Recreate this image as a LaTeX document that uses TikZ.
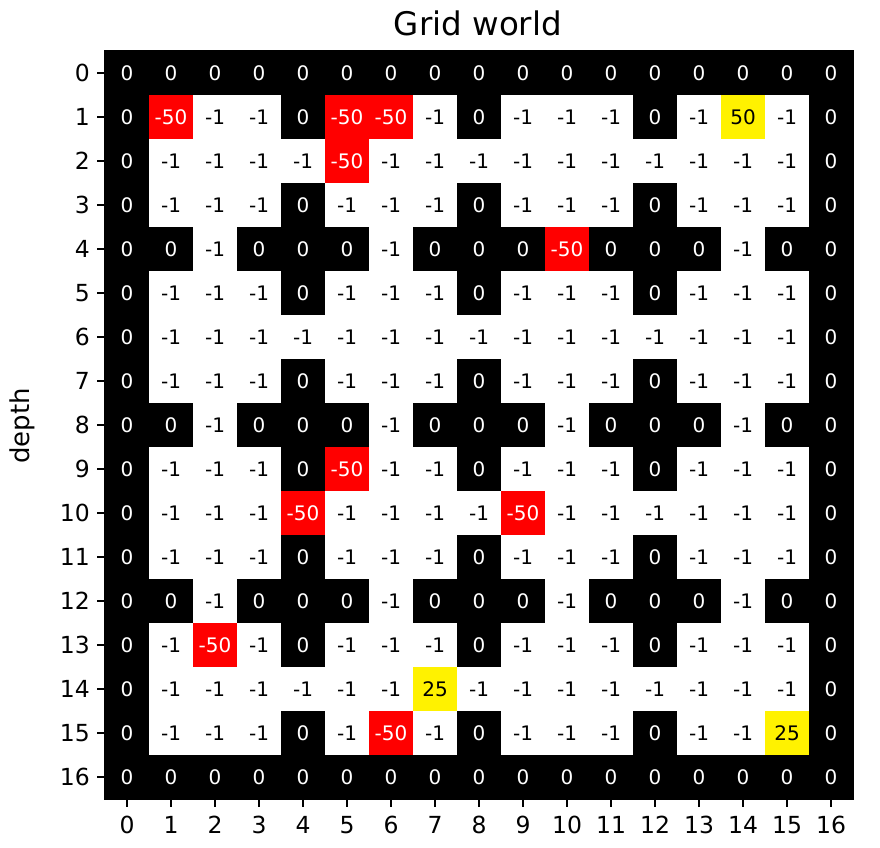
\documentclass[tikz,border=0pt]{standalone}
\usepackage{fontspec}
\setmainfont{DejaVu Sans}
\begin{document}
\begin{tikzpicture}[x=1pt,y=-1pt,
  cell/.style={minimum size=44pt,inner sep=0pt,outer sep=0pt,font=\fontsize{20}{20}\selectfont},
  zero/.style={fill=black,text=white},
  free/.style={fill=white,text=black},
  trap/.style={fill=red,text=white},
  goal/.style={fill=yellow,text=black},
  ticklab/.style={font=\fontsize{23.5}{23.5}\selectfont,inner sep=0pt},
  tickmark/.style={line width=1.6pt}]
\useasboundingbox[fill=white] (0,0) rectangle (880,847);
\foreach \row [count=\r from 0] in {
 {0,0,0,0,0,0,0,0,0,0,0,0,0,0,0,0,0},
 {0,-50,-1,-1,0,-50,-50,-1,0,-1,-1,-1,0,-1,50,-1,0},
 {0,-1,-1,-1,-1,-50,-1,-1,-1,-1,-1,-1,-1,-1,-1,-1,0},
 {0,-1,-1,-1,0,-1,-1,-1,0,-1,-1,-1,0,-1,-1,-1,0},
 {0,0,-1,0,0,0,-1,0,0,0,-50,0,0,0,-1,0,0},
 {0,-1,-1,-1,0,-1,-1,-1,0,-1,-1,-1,0,-1,-1,-1,0},
 {0,-1,-1,-1,-1,-1,-1,-1,-1,-1,-1,-1,-1,-1,-1,-1,0},
 {0,-1,-1,-1,0,-1,-1,-1,0,-1,-1,-1,0,-1,-1,-1,0},
 {0,0,-1,0,0,0,-1,0,0,0,-1,0,0,0,-1,0,0},
 {0,-1,-1,-1,0,-50,-1,-1,0,-1,-1,-1,0,-1,-1,-1,0},
 {0,-1,-1,-1,-50,-1,-1,-1,-1,-50,-1,-1,-1,-1,-1,-1,0},
 {0,-1,-1,-1,0,-1,-1,-1,0,-1,-1,-1,0,-1,-1,-1,0},
 {0,0,-1,0,0,0,-1,0,0,0,-1,0,0,0,-1,0,0},
 {0,-1,-50,-1,0,-1,-1,-1,0,-1,-1,-1,0,-1,-1,-1,0},
 {0,-1,-1,-1,-1,-1,-1,25,-1,-1,-1,-1,-1,-1,-1,-1,0},
 {0,-1,-1,-1,0,-1,-50,-1,0,-1,-1,-1,0,-1,-1,25,0},
 {0,0,0,0,0,0,0,0,0,0,0,0,0,0,0,0,0}} {
  \foreach \v [count=\c from 0] in \row {
    \ifnum\v=0 \def\cellsty{zero}\else\ifnum\v=-1 \def\cellsty{free}\else\ifnum\v<0 \def\cellsty{trap}\else\def\cellsty{goal}\fi\fi\fi
    \node[cell,\cellsty] (c-\r-\c) at ({127+44*\c},{73+44*\r}) {\v};
  }
}
\draw[line width=1.6pt] (105,51) rectangle (853,799);
\foreach \i in {0,...,16} {
  \draw[tickmark] ({127+44*\i},799) -- ({127+44*\i},807);
  \node[ticklab,anchor=north] (xt-\i) at ({127+44*\i},816) {\i};
  \draw[tickmark] (105,{73+44*\i}) -- (97,{73+44*\i});
  \node[ticklab,anchor=east] (yt-\i) at (90,{73+44*\i}) {\i};
}
\node[font=\fontsize{26}{26}\selectfont,rotate=90,inner sep=0pt] (ylab) at (22,426) {depth};
\node[font=\fontsize{32.5}{32.5}\selectfont,inner sep=0pt,anchor=base] (title) at (478,35) {Grid world};
\end{tikzpicture}
\end{document}
